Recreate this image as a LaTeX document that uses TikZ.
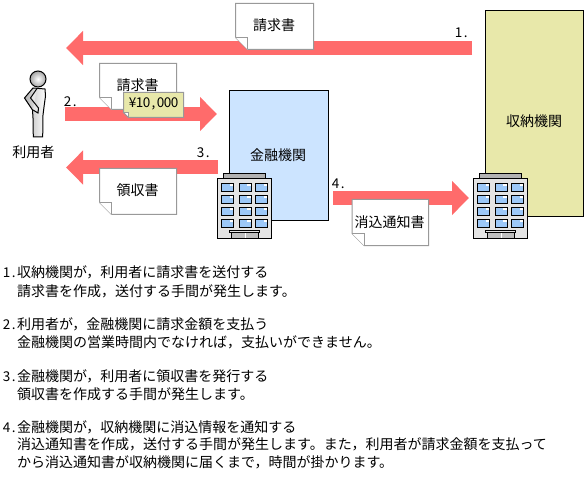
\documentclass[tikz,border=0pt]{standalone}
\usepackage{fontspec}
\setmainfont{Noto Sans CJK JP}
\usetikzlibrary{arrows.meta}
\definecolor{flow}{HTML}{FF6B6B}
\definecolor{bluebox}{HTML}{CCE4FF}
\definecolor{yellowbox}{HTML}{E8E8AA}
\definecolor{docline}{HTML}{999999}
\definecolor{wall}{HTML}{E4E4E4}
\definecolor{glass}{HTML}{9CC8F8}
\newcommand{\hw}[1]{\makebox[7pt][c]{\fontsize{13.5pt}{14pt}\selectfont #1}}
\newcommand{\zc}{\symbol{"FF0C}}
\tikzset{
  x=1pt,y=-1pt,
  flowarrow/.style={line width=14pt,draw=flow,-{Triangle[length=17pt,width=33pt]}},
  org/.style={draw=black,line width=1pt,inner sep=0pt},
  docshape/.style={draw=docline,fill=white,line width=1pt,line join=miter},
  label/.style={inner sep=0pt,font=\fontsize{14pt}{15pt}\selectfont},
  step num/.style={inner sep=0pt,anchor=west},
  body text/.style={inner sep=0pt,anchor=west,font=\fontsize{14pt}{15pt}\selectfont},
  tower/.pic={
    \fill[wall,draw=black,line width=1pt] (5.5,-5) rectangle (48,0);
    \fill[black!30] (6,-4.5) rectangle (47.5,-0.5);
    \fill[wall,draw=black,line width=1pt] (0,0) rectangle (54,60);
    \foreach \wx in {4,21.5,38}{
      \foreach \wy in {5,17,29,41}{
        \fill[glass,draw=black,line width=1pt] (\wx,\wy) rectangle ++(12,8);
        \fill[white] (\wx+8,\wy+0.5) rectangle ++(3.5,2);
      }
    }
    \fill[wall,draw=black,line width=0.8pt] (12,51.5) rectangle (42,54);
    \fill[black!25,draw=black,line width=0.8pt] (14,54) rectangle (41,60);
    \draw[white,line width=1pt] (27.5,54.5) -- (27.5,59.5);
  },
}
\newcommand{\docpaper}[5]{% name, x1, y1, x2, y2
  \draw[docshape] (#2,#3) -- (#4,#3) -- (#4,#5) -- (#2+12,#5) -- (#2,#5-12) -- cycle;
  \draw[docshape] (#2,#5-12) -- (#2+12,#5-12) -- (#2+12,#5);
}
\begin{document}
\begin{tikzpicture}
\useasboundingbox (0,0) rectangle (588,486);
% organisations
\node[org,fill=bluebox,minimum width=99pt,minimum height=130pt] (bank) at (278.5,155.5) {};
\node[label] (bankt) at (278,155) {金融機関};
\node[org,fill=yellowbox,minimum width=98pt,minimum height=206pt] (collector) at (534,114) {};
\node[label] (collectort) at (534,121) {収納機関};
% endpoints of flows
\coordinate (a1s) at (472,48); \coordinate (a1e) at (66,48);
\coordinate (a2s) at (65,114); \coordinate (a2e) at (217,114);
\coordinate (a3s) at (218,167.5); \coordinate (a3e) at (66,167.5);
\coordinate (a4s) at (333,198); \coordinate (a4e) at (469,198);
\draw[flowarrow] (a1s) -- (a1e);
\draw[flowarrow] (a2s) -- (a2e);
\draw[flowarrow] (a3s) -- (a3e);
\draw[flowarrow] (a4s) -- (a4e);
% documents
\docpaper{d1}{235.5}{3.5}{313.5}{49.5}
\node[label] (d1t) at (274,25) {請求書};
\docpaper{d2}{99.5}{63.5}{176.5}{109.5}
\node[label] (d2t) at (137.5,85) {請求書};
\draw[docshape,fill=yellowbox] (123.5,92.5) -- (183.5,92.5) -- (183.5,117.5) -- (128.5,117.5) -- (123.5,112.5) -- cycle;
\draw[docshape,fill=white,line width=0.8pt] (123.5,112.5) -- (128.5,112.5) -- (128.5,117.5) -- cycle;
\node[inner sep=0pt] (price) at (153.5,103.5) {\hw{¥}\hw{1}\hw{0}\hw{,}\hw{0}\hw{0}\hw{0}};
\docpaper{d3}{99.5}{168.5}{176.5}{214.5}
\node[label] (d3t) at (137.5,190) {領収書};
\docpaper{d4}{352}{199.5}{428.5}{245.5}
\node[label] (d4t) at (389.5,222) {消込通知書};
% buildings
\pic at (217.5,178.5) {tower};
\pic at (473.5,178.5) {tower};
% person
\shade[draw=black,line width=1pt,left color=black!30,right color=white]
  (33,88) -- (45,89) -- (45.5,96) -- (44,107) -- (43,115) -- (42.7,137) -- (33.3,137) -- (33,118) -- (32.5,110) -- (24.5,98) -- cycle;
\draw[black,line width=1pt,fill=black!10] (37,88.5) -- (30.5,98) -- (38.5,108) -- (38,113) -- (33,110);
\shade[draw=black,line width=1pt,inner color=white,outer color=black!35] (38,79) circle (8);
\node[label] (user) at (33.5,152) {利用者};
% step numbers
\node[step num] (n1) at (455,33) {\hw{1}\hw{.}};
\node[step num] (n2) at (64,102) {\hw{2}\hw{.}};
\node[step num] (n3) at (197,153) {\hw{3}\hw{.}};
\node[step num] (n4) at (332,184) {\hw{4}\hw{.}};
% explanation
\node[body text] (t1a) at (3,272) {\hw{1}\hw{.}収納機関が\zc{}利用者に請求書を送付する};
\node[body text] (t1b) at (17,291) {請求書を作成\zc{}送付する手間が発生します。};
\node[body text] (t2a) at (3,324) {\hw{2}\hw{.}利用者が\zc{}金融機関に請求金額を支払う};
\node[body text] (t2b) at (17,342) {金融機関の営業時間内でなければ\zc{}支払いができません。};
\node[body text] (t3a) at (3,376) {\hw{3}\hw{.}金融機関が\zc{}利用者に領収書を発行する};
\node[body text] (t3b) at (17,394) {領収書を作成する手間が発生します。};
\node[body text] (t4a) at (3,427) {\hw{4}\hw{.}金融機関が\zc{}収納機関に消込情報を通知する};
\node[body text] (t4b) at (17,444) {消込通知書を作成\zc{}送付する手間が発生します。また\zc{}利用者が請求金額を支払って};
\node[body text] (t4c) at (17,462) {から消込通知書が収納機関に届くまで\zc{}時間が掛かります。};
\end{tikzpicture}
\end{document}
